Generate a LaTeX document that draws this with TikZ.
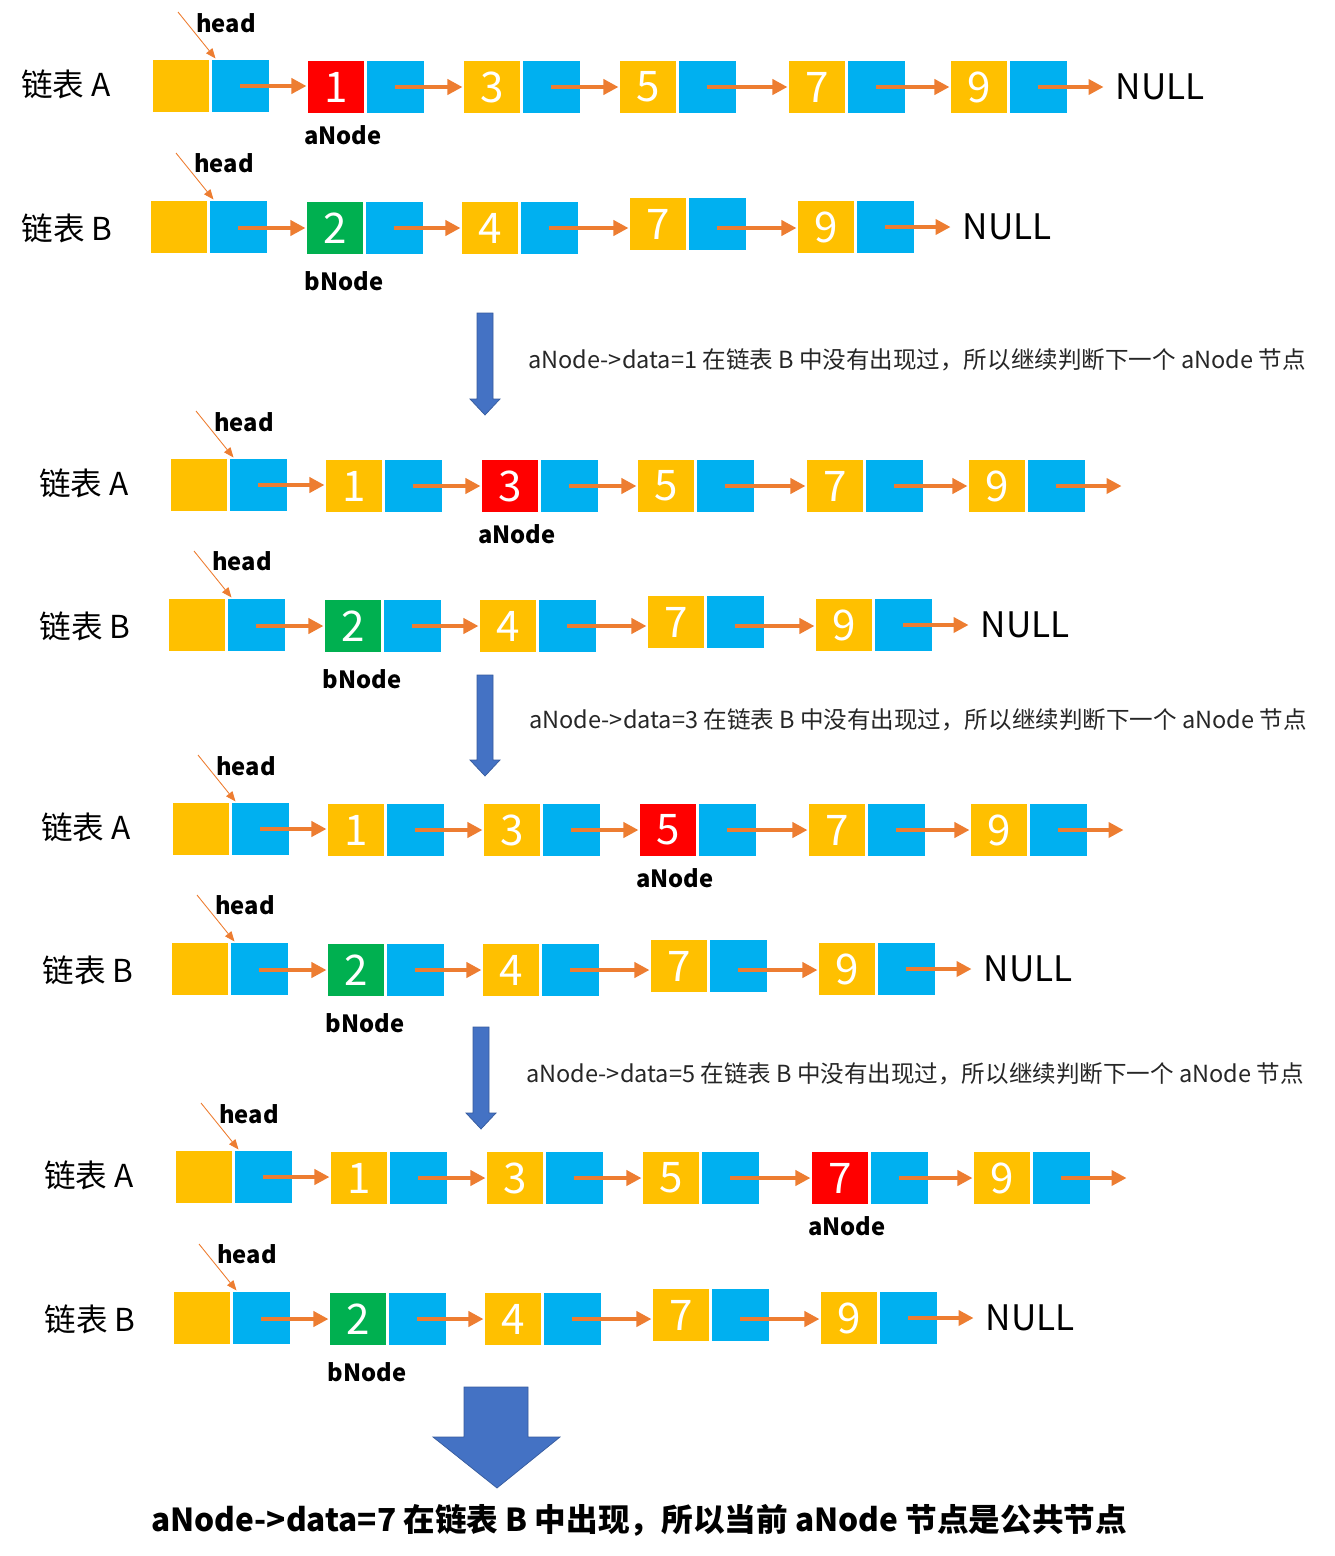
\documentclass[tikz,border=0pt]{standalone}
\usepackage{fontspec}
\setmainfont{Noto Sans CJK SC}
\usetikzlibrary{positioning,arrows.meta}
\definecolor{Yel}{HTML}{FFC000}
\definecolor{Blu}{HTML}{00B0F0}
\definecolor{Rd}{HTML}{FF0000}
\definecolor{Grn}{HTML}{00B050}
\definecolor{Org}{HTML}{ED7D31}
\definecolor{Arw}{HTML}{4472C4}
\tikzset{
  databox/.style={draw=white, line width=0.6pt, minimum width=1.16cm, minimum height=1.08cm, inner sep=0pt, text=white, font=\fontsize{24}{24}\selectfont},
  ptrbox/.style={databox, fill=Blu},
  link/.style={draw=Org, line width=2.2pt, -{Triangle[length=0.3cm,width=0.3cm]}},
  headlink/.style={draw=Org, line width=0.5pt, -{Triangle[length=0.2cm,width=0.16cm]}},
  listname/.style={font=\fontsize{18}{18}\selectfont},
  tag/.style={font=\bfseries\fontsize{13.5}{14}\selectfont, inner sep=0pt},
  nullname/.style={font=\fontsize{20}{20}\selectfont, anchor=west, inner sep=0pt},
  note/.style={font=\fontsize{13.4}{14}\selectfont, anchor=west, inner sep=0pt, text=black!85},
  bigarrow/.style={fill=Arw, draw=Arw!80!black, line width=0.4pt}
}
\newcommand{\ListA}[5]{%
\begin{scope}[shift={(#2,#3)}]
 \node[listname] (#1lbl) at (-86,-2) {链表 A};
 \node[databox, fill=Yel] (#1dh) at (29,0) {};
 \node[ptrbox, right=0pt of #1dh] (#1ph) {};
 \coordinate (#1hs) at (26,-74);
 \draw[headlink] (#1hs) -- ([xshift=0.1cm]#1ph.north west);
 \node[tag] (#1ht) at (74,-63) {head};
 \foreach \v/\x [remember=\v as \lastv (initially h)] in {1/184,3/340,5/496,7/665,9/827}{
   \ifnum\v=#4\relax\def\boxcol{Rd}\else\def\boxcol{Yel}\fi
   \node[databox, fill=\boxcol] (#1d\v) at (\x,1) {\v};
   \node[ptrbox, right=0pt of #1d\v] (#1p\v) {};
   \draw[link] (#1p\lastv.center) -- (#1p\lastv.center -| #1d\v.west);
 }
 \node[nullname] (#1tail) at ([xshift=0.96cm]#1p9.east) {#5};
 \draw[link, shorten >=0.24cm] (#1p9.center) -- (#1p9.center -| #1tail.west);
 \node[tag] (#1cur) at ([xshift=0.14cm, yshift=-0.42cm]#1d#4.south) {aNode};
\end{scope}}
\newcommand{\ListB}[3]{%
\begin{scope}[shift={(#2,#3)}]
 \node[listname] (#1lbl) at (-83,1) {链表 B};
 \node[databox, fill=Yel] (#1dh) at (29,0) {};
 \node[ptrbox, right=0pt of #1dh] (#1ph) {};
 \coordinate (#1hs) at (26,-74);
 \draw[headlink] (#1hs) -- ([xshift=0.1cm]#1ph.north west);
 \node[tag] (#1ht) at (74,-64) {head};
 \foreach \v/\x/\dy [remember=\v as \lastv (initially h)] in {2/185/1,4/340/1,7/508/-3,9/676/0}{
   \ifnum\v=2\relax\def\boxcol{Grn}\else\def\boxcol{Yel}\fi
   \node[databox, fill=\boxcol] (#1d\v) at (\x,\dy) {\v};
   \node[ptrbox, right=0pt of #1d\v] (#1p\v) {};
   \draw[link] (#1p\lastv.center |- #1d2) -- (#1d\v.west |- #1d2);
 }
 \node[nullname] (#1tail) at ([xshift=0.96cm]#1p9.east) {NULL};
 \draw[link, shorten >=0.24cm] (#1p9.center) -- (#1p9.center -| #1tail.west);
 \node[tag] (#1cur) at ([xshift=0.18cm, yshift=-0.52cm]#1d2.south) {bNode};
\end{scope}}
\begin{document}
\begin{tikzpicture}[x=0.02cm, y=-0.02cm]
\useasboundingbox (0,0) rectangle (1335,1556);

\ListA{a1}{152}{86}{1}{NULL}
\ListB{b1}{150}{227}
\fill[bigarrow] (477,313) -- (493,313) -- (493,399) -- (500,399) -- (485,415) -- (470,399) -- (477,399) -- cycle;
\node[note] (step1) at (528,360) {aNode->data=1 在链表 B 中没有出现过，所以继续判断下一个 aNode 节点};

\ListA{a2}{170}{485}{3}{}
\ListB{b2}{168}{625}
\fill[bigarrow] (477,675) -- (493,675) -- (493,760) -- (500,760) -- (485,776) -- (470,760) -- (477,760) -- cycle;
\node[note] (step2) at (529,720) {aNode->data=3 在链表 B 中没有出现过，所以继续判断下一个 aNode 节点};

\ListA{a3}{172}{829}{5}{}
\ListB{b3}{171}{969}
\fill[bigarrow] (473,1027) -- (489,1027) -- (489,1113) -- (496,1113) -- (481,1129) -- (466,1113) -- (473,1113) -- cycle;
\node[note] (step3) at (526,1074) {aNode->data=5 在链表 B 中没有出现过，所以继续判断下一个 aNode 节点};

\ListA{a4}{175}{1177}{7}{}
\ListB{b4}{173}{1318}
\fill[bigarrow] (464,1387) -- (528,1387) -- (528,1437) -- (560,1437) -- (497,1488) -- (433,1437) -- (464,1437) -- cycle;
\node[font=\bfseries\fontsize{18}{18}\selectfont] (result) at (639,1520) {aNode->data=7 在链表 B 中出现，所以当前 aNode 节点是公共节点};
\end{tikzpicture}
\end{document}
